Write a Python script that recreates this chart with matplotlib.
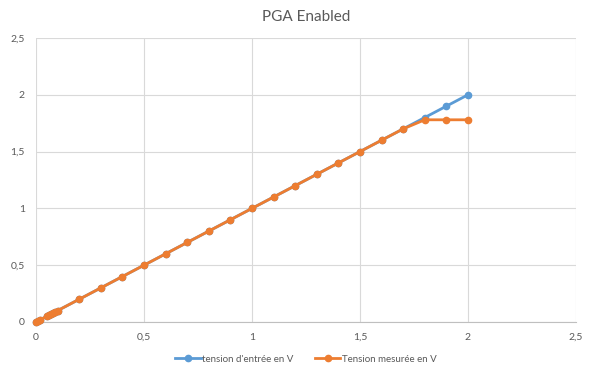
import matplotlib
matplotlib.use("Agg")
import matplotlib.pyplot as plt
from matplotlib.ticker import FuncFormatter

plt.rcParams['font.family'] = ['Lato', 'DejaVu Sans']

# values
x_in = [0, 0.01, 0.02, 0.05, 0.06, 0.07, 0.08, 0.09, 0.1, 0.2, 0.3, 0.4, 0.5,
        0.6, 0.7, 0.8, 0.9, 1.0, 1.1, 1.2, 1.3, 1.4, 1.5, 1.6, 1.7, 1.8, 1.9, 2.0]
v_entree = list(x_in)
v_mesuree = [0, 0.01, 0.02, 0.05, 0.06, 0.07, 0.08, 0.09, 0.1, 0.2, 0.3, 0.4, 0.5,
             0.6, 0.7, 0.8, 0.9, 1.0, 1.1, 1.2, 1.3, 1.4, 1.5, 1.6, 1.7, 1.78, 1.78, 1.78]
ticks = [0, 0.5, 1, 1.5, 2, 2.5]

blue = '#5B9BD5'
orange = '#ED7D31'
gray = '#595959'

fig = plt.figure(figsize=(5.95, 3.69), dpi=100)
ax = fig.add_axes([0.0605, 0.1274, 0.9075, 0.7696])

ax.plot(x_in, v_entree, color=blue, lw=2, marker='o', ms=4.5,
        label="tension d'entrée en V", zorder=3, clip_on=False)
ax.plot(x_in, v_mesuree, color=orange, lw=2, marker='o', ms=4.5,
        label="Tension mesurée en V", zorder=4, clip_on=False)

ax.set_xlim(0, 2.5)
ax.set_ylim(0, 2.5)
ax.set_xticks(ticks)
ax.set_yticks(ticks)
fmt = FuncFormatter(lambda v, p: ('%g' % v).replace('.', ','))
ax.xaxis.set_major_formatter(fmt)
ax.yaxis.set_major_formatter(fmt)
ax.grid(True, color='#D9D9D9', lw=0.8)
ax.set_axisbelow(True)
for s in ['top', 'right', 'left']:
    ax.spines[s].set_visible(False)
ax.spines['bottom'].set_color('#BFBFBF')
ax.tick_params(length=0, colors=gray, labelsize=7.5, pad=8)

ax.set_title('PGA Enabled', color=gray, fontsize=11, pad=12)
ax.legend(loc='upper center', bbox_to_anchor=(0.5, -0.085), ncol=2, frameon=False,
          fontsize=7, labelcolor=gray, handlelength=2.6, handletextpad=0.15,
          columnspacing=2.2)

fig.savefig('out.png', dpi=100)
